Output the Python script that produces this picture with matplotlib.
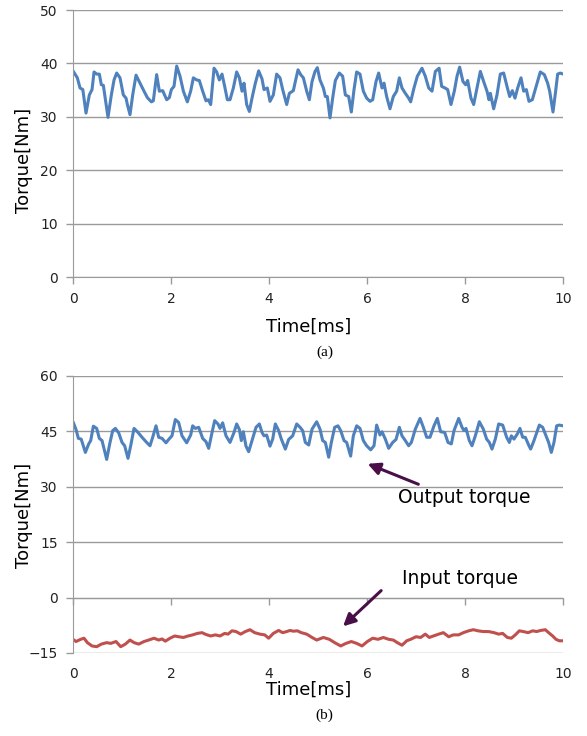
import matplotlib
matplotlib.use('Agg')
import matplotlib.pyplot as plt

# (a) output torque
t_a = [0.0, 0.088, 0.143, 0.2, 0.265, 0.333, 0.388, 0.429, 0.483, 0.537, 0.578, 0.619,
       0.714, 0.782, 0.837, 0.891, 0.959, 1.027, 1.082, 1.109, 1.163, 1.218, 1.286, 1.367,
       1.449, 1.517, 1.599, 1.639, 1.707, 1.762, 1.830, 1.912, 1.966, 2.007, 2.061, 2.116,
       2.184, 2.252, 2.333, 2.401, 2.456, 2.524, 2.578, 2.646, 2.714, 2.762, 2.810, 2.878,
       2.932, 2.986, 3.041, 3.095, 3.150, 3.204, 3.272, 3.340, 3.395, 3.449, 3.490, 3.544,
       3.599, 3.653, 3.721, 3.789, 3.857, 3.898, 3.966, 4.020, 4.088, 4.156, 4.224, 4.279,
       4.361, 4.415, 4.497, 4.537, 4.592, 4.646, 4.701, 4.769, 4.823, 4.878, 4.939, 4.986,
       5.041, 5.109, 5.150, 5.190, 5.245, 5.299, 5.354, 5.435, 5.503, 5.558, 5.626, 5.680,
       5.735, 5.789, 5.857, 5.925, 5.993, 6.061, 6.116, 6.184, 6.238, 6.306, 6.347, 6.401,
       6.469, 6.537, 6.605, 6.660, 6.714, 6.782, 6.850, 6.891, 6.959, 7.027, 7.122, 7.190,
       7.259, 7.327, 7.395, 7.472, 7.524, 7.592, 7.646, 7.714, 7.782, 7.837, 7.891, 7.959,
       8.014, 8.054, 8.122, 8.177, 8.231, 8.313, 8.381, 8.449, 8.490, 8.517, 8.585, 8.653,
       8.721, 8.789, 8.857, 8.912, 8.966, 9.020, 9.075, 9.143, 9.197, 9.252, 9.306, 9.374,
       9.442, 9.537, 9.619, 9.687, 9.728, 9.796, 9.850, 9.891, 9.946, 10.0]
out_a = [38.6, 37.3, 35.4, 35.1, 30.7, 34.1, 35.1, 38.4, 38.0, 38.0, 36.0, 35.9,
         29.9, 34.1, 36.9, 38.2, 37.3, 34.1, 33.5, 32.3, 30.4, 34.1, 37.8, 36.3,
         34.8, 33.6, 32.8, 33.0, 37.9, 34.8, 34.9, 33.2, 33.6, 35.1, 35.7, 39.5,
         37.6, 34.8, 32.8, 34.8, 37.3, 36.9, 36.8, 34.8, 33.0, 33.2, 32.3, 39.1,
         38.4, 36.9, 38.0, 35.7, 33.2, 33.2, 35.4, 38.4, 37.3, 34.8, 36.3, 32.3,
         31.0, 33.5, 36.3, 38.6, 37.1, 35.1, 35.4, 32.9, 34.1, 38.0, 37.3, 35.1,
         32.3, 34.4, 34.9, 36.6, 38.8, 37.9, 37.3, 34.8, 33.2, 36.6, 38.5, 39.2,
         36.9, 35.4, 33.8, 33.8, 29.8, 33.5, 36.8, 38.2, 37.6, 34.1, 33.8, 30.9,
         35.1, 38.4, 38.0, 34.8, 33.5, 32.9, 33.2, 36.6, 38.2, 35.4, 36.3, 33.8,
         31.5, 33.8, 34.8, 37.3, 35.4, 34.4, 33.5, 32.8, 35.4, 37.6, 39.1, 37.6,
         35.4, 34.8, 38.5, 39.1, 35.7, 35.4, 35.1, 32.3, 34.8, 37.6, 39.3, 36.6,
         36.0, 36.8, 33.5, 32.3, 34.8, 38.5, 36.6, 34.8, 33.2, 34.4, 31.5, 34.1,
         38.0, 38.2, 35.7, 33.8, 34.9, 33.5, 35.4, 37.3, 34.8, 35.1, 32.9, 33.2,
         35.4, 38.4, 37.9, 36.3, 34.8, 30.9, 34.8, 38.0, 38.2, 38.0]

# (b) output torque
t_b = [0.0, 0.061, 0.109, 0.167, 0.252, 0.320, 0.361, 0.415, 0.483, 0.537, 0.592, 0.687,
       0.755, 0.810, 0.864, 0.932, 1.0, 1.054, 1.122, 1.177, 1.245, 1.327, 1.408, 1.503,
       1.571, 1.626, 1.694, 1.748, 1.816, 1.898, 1.952, 2.020, 2.088, 2.156, 2.224, 2.320,
       2.401, 2.442, 2.497, 2.565, 2.646, 2.714, 2.769, 2.837, 2.891, 2.959, 3.0, 3.054,
       3.122, 3.204, 3.286, 3.340, 3.395, 3.435, 3.476, 3.530, 3.585, 3.653, 3.735, 3.803,
       3.857, 3.898, 3.952, 4.020, 4.075, 4.129, 4.197, 4.252, 4.333, 4.401, 4.483, 4.565,
       4.633, 4.687, 4.741, 4.810, 4.878, 4.973, 5.041, 5.095, 5.150, 5.218, 5.272, 5.340,
       5.408, 5.463, 5.531, 5.585, 5.666, 5.721, 5.789, 5.857, 5.925, 5.993, 6.075, 6.143,
       6.197, 6.265, 6.306, 6.374, 6.442, 6.524, 6.592, 6.660, 6.714, 6.782, 6.850, 6.905,
       6.986, 7.082, 7.150, 7.218, 7.286, 7.367, 7.435, 7.503, 7.585, 7.653, 7.721, 7.776,
       7.871, 7.939, 7.980, 8.020, 8.088, 8.143, 8.211, 8.293, 8.374, 8.442, 8.497, 8.551,
       8.619, 8.687, 8.769, 8.850, 8.905, 8.946, 9.0, 9.068, 9.122, 9.177, 9.231, 9.299,
       9.340, 9.408, 9.517, 9.585, 9.653, 9.707, 9.762, 9.816, 9.871, 9.925, 10.0]
out_b = [47.6, 45.5, 43.1, 42.9, 39.3, 41.6, 42.5, 46.4, 45.8, 43.1, 42.5, 37.4,
         42.0, 45.2, 45.8, 44.6, 42.0, 41.1, 37.7, 41.1, 45.8, 44.7, 43.4, 42.0,
         41.1, 43.4, 46.5, 43.4, 43.1, 41.9, 42.8, 43.8, 48.2, 47.4, 43.8, 41.9,
         44.0, 46.5, 45.8, 46.1, 43.1, 42.2, 40.4, 44.7, 47.9, 47.0, 45.8, 47.3,
         43.8, 42.0, 44.7, 47.0, 45.5, 42.5, 44.9, 41.0, 39.5, 42.5, 46.1, 47.0,
         44.7, 43.8, 44.0, 41.0, 42.9, 47.0, 45.2, 42.9, 40.2, 42.8, 43.8, 47.0,
         46.1, 45.2, 42.0, 41.3, 45.6, 47.6, 45.6, 42.5, 42.0, 38.0, 42.0, 46.1,
         46.5, 45.2, 42.5, 42.0, 38.3, 43.8, 46.5, 45.8, 42.5, 41.1, 40.0, 41.1,
         46.7, 44.0, 44.9, 42.9, 40.4, 42.0, 42.8, 46.1, 43.8, 42.5, 41.1, 42.0,
         45.6, 48.5, 46.1, 43.4, 43.4, 46.5, 48.5, 44.9, 44.7, 42.0, 41.6, 45.2,
         48.5, 46.1, 45.2, 45.8, 42.5, 41.1, 43.8, 47.6, 45.6, 42.9, 42.0, 40.2,
         42.9, 47.0, 46.7, 43.4, 42.0, 43.8, 42.9, 44.3, 45.8, 43.4, 43.4, 41.3,
         40.2, 42.5, 46.7, 46.1, 43.8, 42.0, 39.3, 42.0, 46.5, 46.7, 46.5]

# (b) input torque
t_in = [0.0, 0.061, 0.156, 0.224, 0.293, 0.388, 0.483, 0.578, 0.687, 0.769, 0.878, 0.973,
        1.068, 1.163, 1.245, 1.340, 1.449, 1.544, 1.653, 1.748, 1.816, 1.884, 1.980, 2.075,
        2.156, 2.252, 2.347, 2.442, 2.537, 2.633, 2.714, 2.810, 2.905, 3.0, 3.095, 3.163,
        3.245, 3.327, 3.422, 3.517, 3.612, 3.707, 3.816, 3.912, 3.993, 4.088, 4.197, 4.279,
        4.361, 4.429, 4.497, 4.578, 4.660, 4.769, 4.878, 4.973, 5.109, 5.231, 5.340, 5.463,
        5.571, 5.680, 5.789, 5.898, 6.007, 6.116, 6.224, 6.333, 6.442, 6.537, 6.619, 6.714,
        6.810, 6.891, 7.0, 7.095, 7.190, 7.272, 7.354, 7.463, 7.558, 7.667, 7.762, 7.871,
        7.966, 8.075, 8.170, 8.265, 8.374, 8.483, 8.592, 8.687, 8.769, 8.864, 8.946, 9.027,
        9.109, 9.190, 9.286, 9.381, 9.463, 9.544, 9.639, 9.707, 9.789, 9.857, 9.925, 10.0]
in_b = [-11.3, -11.9, -11.3, -11.0, -12.2, -13.1, -13.3, -12.6, -12.2, -12.4, -11.9, -13.3,
        -12.6, -11.5, -12.2, -12.6, -11.9, -11.5, -11.0, -11.5, -11.2, -11.8, -11.0, -10.4,
        -10.6, -10.8, -10.4, -10.1, -9.7, -9.5, -10.0, -10.4, -10.1, -10.4, -9.7, -9.9,
        -9.0, -9.2, -9.9, -9.2, -8.7, -9.5, -9.9, -10.1, -11.0, -9.7, -8.9, -9.5,
        -9.2, -8.9, -9.1, -9.0, -9.5, -9.9, -10.8, -11.5, -10.8, -11.3, -12.2, -13.1,
        -12.4, -11.9, -12.4, -13.1, -11.9, -11.0, -11.3, -10.8, -11.3, -11.5, -12.2, -12.9,
        -11.7, -11.3, -10.6, -10.8, -9.9, -10.8, -10.4, -9.9, -9.5, -10.6, -10.1, -10.1,
        -9.5, -9.0, -8.7, -9.0, -9.2, -9.2, -9.5, -9.9, -9.7, -10.8, -11.0, -10.1,
        -9.0, -9.2, -9.5, -9.0, -9.2, -8.9, -8.7, -9.5, -10.4, -11.3, -11.7, -11.7]

x_ticks = [0, 2, 4, 6, 8, 10]
blue = '#4f81bd'
red = '#c0504d'
grid_c = '#9a9a9a'
arrow_c = '#4a0f48'

fig = plt.figure(figsize=(5.87, 7.36), dpi=100)
ax1 = fig.add_axes([0.1244, 0.6236, 0.8347, 0.3628])
ax2 = fig.add_axes([0.1244, 0.1128, 0.8347, 0.3764])


def excel_style(ax, yticks):
    ax.set_xlim(0, 10)
    ax.set_ylim(yticks[0], yticks[-1])
    ax.set_yticks(yticks)
    ax.set_xticks(x_ticks)
    for y in yticks:
        ax.axhline(y, color=grid_c, lw=1, zorder=0)
    for s in ['top', 'right']:
        ax.spines[s].set_visible(False)
    ax.spines['left'].set_color(grid_c)
    ax.spines['bottom'].set_color(grid_c)
    ax.tick_params(axis='both', colors=grid_c, length=5, width=1, labelcolor='#222222',
                   labelsize=10)
    ax.tick_params(axis='x', pad=6)
    ax.tick_params(axis='y', pad=6)


line_kw = dict(lw=2.2, solid_joinstyle='round', solid_capstyle='round')

excel_style(ax1, [0, 10, 20, 30, 40, 50])
ax1.plot(t_a, out_a, color=blue, **line_kw)

excel_style(ax2, [-15, 0, 15, 30, 45, 60])
ax2.spines['bottom'].set_position(('data', 0))
ax2.tick_params(axis='x', labelbottom=False)
sec = ax2.secondary_xaxis('bottom')
sec.set_xticks(x_ticks)
sec.tick_params(length=0, labelsize=10, labelcolor='#222222', pad=10)
sec.spines['bottom'].set_visible(False)
ax2.plot(t_b, out_b, color=blue, **line_kw)
ax2.plot(t_in, in_b, color=red, **line_kw)

ax2.annotate('', xy=(5.96, 36.5), xytext=(7.1, 30.4),
             arrowprops=dict(arrowstyle='-|>', color=arrow_c, lw=2.2, mutation_scale=18))
ax2.text(7.98, 27.1, 'Output torque', ha='center', va='center', fontsize=13.5,
         family='DejaVu Sans', color='black')
ax2.annotate('', xy=(5.47, -8.3), xytext=(6.33, 2.4),
             arrowprops=dict(arrowstyle='-|>', color=arrow_c, lw=2.2, mutation_scale=18))
ax2.text(7.9, 5.2, 'Input torque', ha='center', va='center', fontsize=13.5,
         family='DejaVu Sans', color='black')

fig.text(0.041, 0.782, 'Torque[Nm]', rotation=90, ha='center', va='center', fontsize=13)
fig.text(0.041, 0.30, 'Torque[Nm]', rotation=90, ha='center', va='center', fontsize=13)
fig.text(0.526, 0.556, 'Time[ms]', ha='center', va='center', fontsize=13)
fig.text(0.526, 0.0625, 'Time[ms]', ha='center', va='center', fontsize=13)
fig.text(0.553, 0.522, '(a)', ha='center', va='center', fontsize=11, family='Liberation Serif')
fig.text(0.553, 0.0285, '(b)', ha='center', va='center', fontsize=11, family='Liberation Serif')

fig.savefig('out.png', dpi=100)
